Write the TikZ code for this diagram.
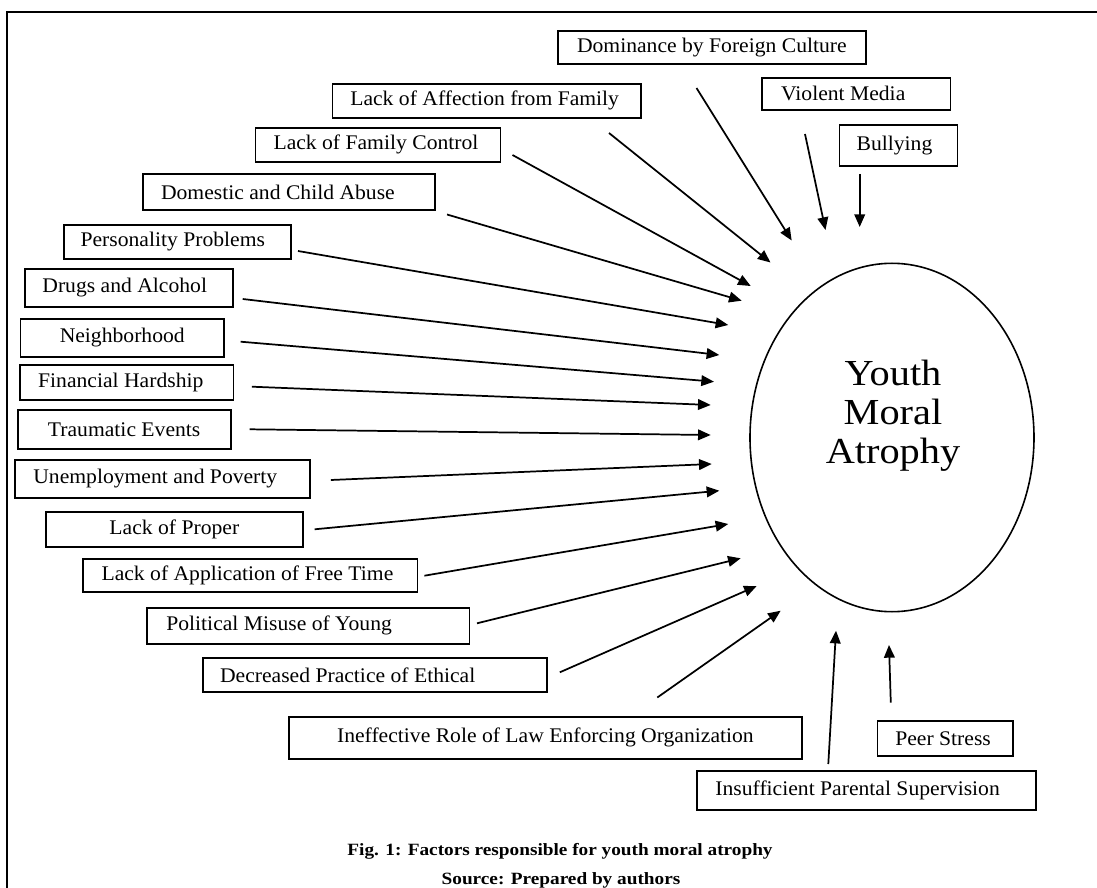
\documentclass[tikz,border=0pt]{standalone}
\usepackage{fontspec}
\setmainfont{Liberation Serif}
\newfontfamily\boxfont[FakeStretch=1.04]{Liberation Serif}
\newfontfamily\bigfont[FakeStretch=1.1]{Liberation Serif}
\newfontfamily\capfont[FakeStretch=1.12]{Liberation Serif}
\usetikzlibrary{arrows.meta,shapes.geometric}
\begin{document}
\begin{tikzpicture}[x=0.75pt,y=-0.75pt,
  box/.style={draw, line width=1.35pt, rectangle, anchor=north west, inner sep=1pt,
    font=\boxfont\fontsize{15.6}{18}\selectfont},
  arr/.style={-{Triangle[length=9.5pt,width=8pt]}, line width=1.3pt},
  bigtxt/.style={anchor=base, inner sep=0pt, font=\bigfont\fontsize{27.5}{30}\selectfont},
  captxt/.style={anchor=base, inner sep=0pt, font=\capfont\bfseries\fontsize{12.9}{15}\selectfont}]
\useasboundingbox (0,0) rectangle (1097,888);
% frame (right and bottom edges fall outside the picture)
\draw[line width=1.35pt] (7,900) -- (7,12) -- (1110,12);

% central ellipse
\node[draw, ellipse, line width=1.2pt, minimum width=213pt, minimum height=261.3pt, inner sep=0pt] (yma) at (892,437.5) {};
\node[bigtxt] (y1) at (893,385) {Youth};
\node[bigtxt] (y2) at (893,424) {Moral};
\node[bigtxt] (y3) at (893,463.3) {Atrophy};

% factor boxes
\node[box, minimum width=231pt, minimum height=24.75pt] (dom) at (557,30) {Dominance by Foreign Culture};
\node[box, minimum width=141.5pt, minimum height=24pt] (vio) at (761,77) {Violent Media\hspace*{19.5pt}};
\node[box, minimum width=88.6pt, minimum height=30.75pt] (bul) at (838.5,124) {Bullying\hspace*{6pt}};
\node[box, minimum width=231.4pt, minimum height=25.5pt] (aff) at (331.5,83) {Lack of Affection from Family\hspace*{3pt}};
\node[box, minimum width=183.7pt, minimum height=25.5pt] (fam) at (254.6,127) {Lack of Family Control\hspace*{3pt}};
\node[box, minimum width=219pt, minimum height=27pt] (abu) at (142,173) {Domestic and Child Abuse\hspace*{16.5pt}};
\node[box, minimum width=170.7pt, minimum height=25.5pt] (per) at (62.8,224) {Personality Problems\hspace*{7pt}};
\node[box, minimum width=155.9pt, minimum height=28.5pt] (dru) at (23.9,268) {Drugs and Alcohol\hspace*{6pt}};
\node[box, minimum width=152.6pt, minimum height=28.5pt] (nei) at (19.6,318) {Neighborhood};
\node[box, minimum width=159.9pt, minimum height=26.25pt] (fin) at (19.3,364) {Financial Hardship\hspace*{9pt}};
\node[box, minimum width=159.7pt, minimum height=29.25pt] (tra) at (16.8,409) {Traumatic Events};
\node[box, minimum width=221.25pt, minimum height=28.5pt] (une) at (14.4,459) {Unemployment and Poverty\hspace*{11.25pt}};
\node[box, minimum width=192.8pt, minimum height=26.25pt] (pro) at (44.9,511) {Lack of Proper};
\node[box, minimum width=250.7pt, minimum height=24.75pt] (fre) at (82.4,558) {Lack of Application of Free Time\hspace*{4.5pt}};
\node[box, minimum width=242pt, minimum height=27pt] (pol) at (145.9,607) {Political Misuse of Young\hspace*{43.5pt}};
\node[box, minimum width=258.1pt, minimum height=25.5pt] (eth) at (201.7,657) {Decreased Practice of Ethical\hspace*{40.5pt}};
\node[box, minimum width=384.75pt, minimum height=31.5pt] (law) at (288,716) {Ineffective Role of Law Enforcing Organization};
\node[box, minimum width=254.6pt, minimum height=29.25pt] (sup) at (696,770) {Insufficient Parental Supervision\hspace*{13.5pt}};
\node[box, minimum width=101.5pt, minimum height=26.25pt] (pee) at (876.5,720) {Peer Stress\hspace*{3pt}};

% arrow end points (arrows float free of boxes and ellipse)
\coordinate (sdom) at (696.5,88);   \coordinate (tdom) at (791.7,240.5);
\coordinate (svio) at (805,134);    \coordinate (tvio) at (825.5,230);
\coordinate (sbul) at (859.7,174);  \coordinate (tbul) at (859.7,227);
\coordinate (saff) at (609,133);    \coordinate (taff) at (770.5,262.5);
\coordinate (sfam) at (512.5,155);  \coordinate (tfam) at (750.7,286);
\coordinate (sabu) at (447,214.5);  \coordinate (tabu) at (741.7,300.7);
\coordinate (sper) at (298,251);    \coordinate (tper) at (728.3,325);
\coordinate (sdru) at (242.7,299);  \coordinate (tdru) at (719.3,355);
\coordinate (snei) at (240.6,341.7);\coordinate (tnei) at (714,381.7);
\coordinate (sfin) at (251.8,386.7);\coordinate (tfin) at (710.7,405);
\coordinate (stra) at (249.7,429.3);\coordinate (ttra) at (710.7,435);
\coordinate (sune) at (330.8,480);  \coordinate (tune) at (711.7,464);
\coordinate (spro) at (314.6,529.3);\coordinate (tpro) at (719.3,490.7);
\coordinate (sfre) at (424.4,575.7);\coordinate (tfre) at (728.3,524);
\coordinate (spol) at (477,623.3);  \coordinate (tpol) at (740.7,558.3);
\coordinate (seth) at (559.8,672.3);\coordinate (teth) at (756.7,586);
\coordinate (slaw) at (657.3,697.5);\coordinate (tlaw) at (780.7,610.7);
\coordinate (ssup) at (828.3,764);  \coordinate (tsup) at (836,630.7);
\coordinate (spee) at (890.8,702.7);\coordinate (tpee) at (889,645);

\foreach \n in {dom,vio,bul,aff,fam,abu,per,dru,nei,fin,tra,une,pro,fre,pol,eth,law,sup,pee}
  \draw[arr] (s\n) -- (t\n);

% caption
\node[captxt] (cap1) at (560,855) {Fig. 1: Factors responsible for youth moral atrophy};
\node[captxt] (cap2) at (561,884) {Source: Prepared by authors};
\end{tikzpicture}
\end{document}
